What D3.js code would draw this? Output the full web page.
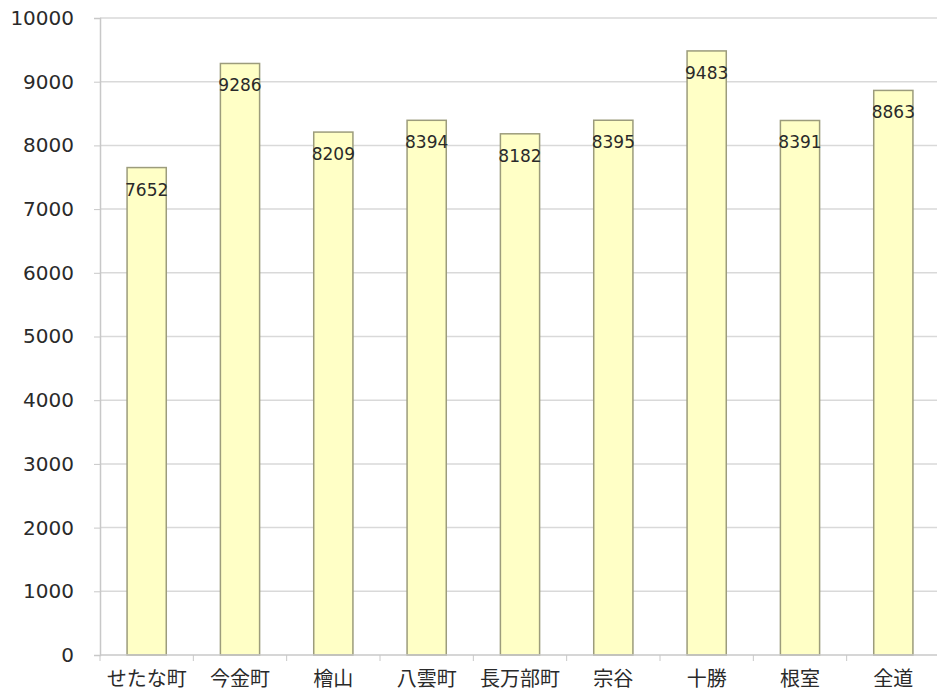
<!DOCTYPE html>
<html><head><meta charset="utf-8">
<script src="https://cdn.jsdelivr.net/npm/d3@7"></script>
<style>
html,body{margin:0;padding:0;background:#fff;}
svg{display:block;}
</style></head>
<body>
<svg id="chart" width="937" height="692"></svg>
<script>
const categories = ["せたな町","今金町","檜山","八雲町","長万部町","宗谷","十勝","根室","全道"];
const values = [7652, 9286, 8209, 8394, 8182, 8395, 9483, 8391, 8863];
const yTicks = [0,1000,2000,3000,4000,5000,6000,7000,8000,9000,10000];

const svg = d3.select("#chart");
const mLeft = 100, mRight = 940, mTop = 18, mBottom = 655;

const x = d3.scaleBand().domain(categories).range([mLeft, mRight]).paddingInner(0.58).paddingOuter(0.29);
const y = d3.scaleLinear().domain([0, 10000]).range([mBottom, mTop]);

// gridlines
svg.append("g").selectAll("line").data(yTicks.filter(d => d > 0)).join("line")
  .attr("x1", mLeft).attr("x2", 937)
  .attr("y1", d => y(d)).attr("y2", d => y(d))
  .attr("stroke", "#d9d9d9").attr("stroke-width", 1.5);

// y axis
const yAxis = svg.append("g").attr("transform", `translate(${mLeft},0)`)
  .call(d3.axisLeft(y).tickValues(yTicks).tickSize(6).tickPadding(20).tickFormat(d3.format("d")));
yAxis.select(".domain").attr("stroke", "#c8c8c8").attr("stroke-width", 1.5);
yAxis.selectAll(".tick line").attr("stroke", "#c8c8c8");
yAxis.selectAll("text").attr("font-family", "'DejaVu Sans', sans-serif").attr("font-size", 20).attr("fill", "#2a2a2a");

// bars
svg.append("g").selectAll("rect").data(values).join("rect")
  .attr("x", (d, i) => x(categories[i]))
  .attr("y", d => y(d))
  .attr("width", x.bandwidth())
  .attr("height", d => y(0) - y(d))
  .attr("fill", "#ffffc6").attr("stroke", "#9c9c7c").attr("stroke-width", 1.5);

// x axis
const xStep = x.step();
const xAxis = svg.append("g").attr("transform", `translate(0,${mBottom})`);
xAxis.append("line").attr("x1", mLeft).attr("x2", 937).attr("y1", 0).attr("y2", 0)
  .attr("stroke", "#c8c8c8").attr("stroke-width", 1.5);
xAxis.selectAll("line.tk").data(d3.range(categories.length + 1)).join("line").attr("class", "tk")
  .attr("x1", i => mLeft + i * xStep).attr("x2", i => mLeft + i * xStep)
  .attr("y1", 0).attr("y2", 6).attr("stroke", "#c8c8c8");
xAxis.selectAll("text").data(categories).join("text")
  .attr("x", d => x(d) + x.bandwidth() / 2).attr("y", 31)
  .attr("text-anchor", "middle")
  .attr("font-family", "'Noto Sans CJK JP', sans-serif").attr("font-size", 20).attr("fill", "#2a2a2a")
  .text(d => d);

// value labels
svg.append("g").selectAll("text").data(values).join("text")
  .attr("x", (d, i) => x(categories[i]) + x.bandwidth() / 2)
  .attr("y", d => y(d) + 28)
  .attr("text-anchor", "middle")
  .attr("font-family", "'DejaVu Sans', sans-serif").attr("font-size", 17).attr("fill", "#2a2a2a")
  .text(d => d);
</script>
</body></html>
